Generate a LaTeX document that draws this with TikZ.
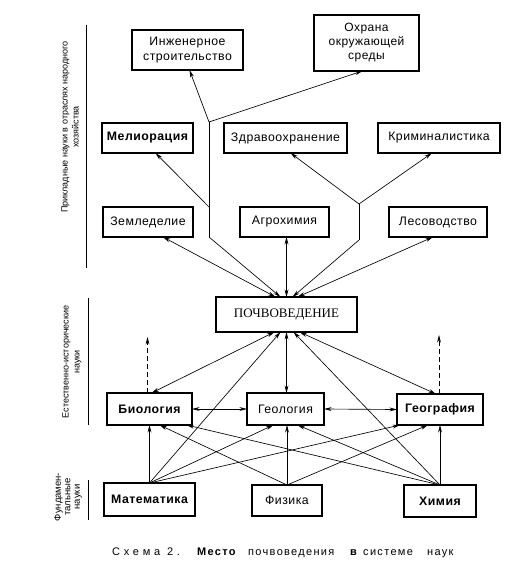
\documentclass[tikz,border=0pt]{standalone}
\usepackage{fontspec}
\setmainfont{Liberation Sans}
\newfontfamily\lbl[LetterSpace=4]{Liberation Sans}
\newfontfamily\serifcaps{Liberation Serif}
\newfontfamily\capsp[LetterSpace=34]{Liberation Sans}
\newfontfamily\captr[LetterSpace=12]{Liberation Sans}
\usetikzlibrary{arrows.meta,calc}
\begin{document}
\begin{tikzpicture}[x=1pt,y=-1pt,
  box/.style={draw, line width=1.3pt, inner sep=0pt, outer sep=0pt, align=center,
    font=\lbl\fontsize{12.3}{14.5}\selectfont},
  bbox/.style={box, font=\lbl\bfseries\fontsize{12.3}{14.5}\selectfont},
  conn/.style={line width=0.65pt},
  arr/.style={conn, -{Stealth[length=7.5pt,width=3.8pt]}},
  darr/.style={conn, {Stealth[length=7.5pt,width=3.8pt]}-{Stealth[length=7.5pt,width=3.8pt]}},
  side/.style={rotate=90, align=center, inner sep=0pt, font=\fontsize{9}{11}\selectfont},
  capw/.style={inner sep=0pt, anchor=base west, font=\captr\fontsize{11}{12}\selectfont},
  bar/.style={line width=1pt}
]
\useasboundingbox (0,0) rectangle (523,573);

% boxes
\node[box, minimum width=111pt, minimum height=40pt] (ing) at (187.5,50) {Инженерное\\строительство};
\node[box, minimum width=105pt, minimum height=56pt, font=\lbl\fontsize{12}{14}\selectfont] (ohr) at (366.5,43) {Охрана\\окружающей\\среды};
\node[bbox, minimum width=91pt, minimum height=30pt] (mel) at (147.5,138) {Мелиорация};
\node[box, minimum width=123pt, minimum height=30pt] (zdr) at (285.5,138) {Здравоохранение};
\node[box, minimum width=122pt, minimum height=30pt] (krim) at (439,138) {Криминалистика};
\node[box, minimum width=90pt, minimum height=30pt] (zem) at (148,222) {Земледелие};
\node[box, minimum width=89pt, minimum height=30pt] (agro) at (284.5,222) {Агрохимия};
\node[box, minimum width=98pt, minimum height=30pt] (les) at (438,222) {Лесоводство};
\node[box, minimum width=141pt, minimum height=35pt, line width=1.6pt, font=\serifcaps\fontsize{13}{15}\selectfont] (poch) at (286.5,314.5) {ПОЧВОВЕДЕНИЕ};
\node[bbox, minimum width=85pt, minimum height=32pt] (bio) at (149.5,409) {Биология};
\node[box, minimum width=77pt, minimum height=32pt] (geol) at (285.5,409) {Геология};
\node[bbox, minimum width=86pt, minimum height=31pt] (geog) at (440,409.5) {География};
\node[bbox, minimum width=91pt, minimum height=33pt] (mat) at (149.5,499.5) {Математика};
\node[box, minimum width=70pt, minimum height=31pt] (fiz) at (287,500.5) {Физика};
\node[bbox, minimum width=72pt, minimum height=32pt] (him) at (440,501) {Химия};

% upper tree 1
\coordinate (j1) at (209,122);
\coordinate (j2) at (209,207);
\coordinate (j3) at (209,237);
\draw[arr] (j1) -- ($(ing.south)+(2,0)$);
\draw[arr] (j1) -- ($(ohr.south)+(-4,0)$);
\draw[arr] (j2) -- ($(mel.south)+(8,0)$);
\draw[conn] (j1) -- (j3);
\draw[arr] (j3) -- ($(poch.north)+(-6,0)$);

% upper tree 2
\coordinate (j4) at (359,204);
\coordinate (j5) at (359,240);
\draw[arr] (j4) -- ($(zdr.south)+(5,0)$);
\draw[arr] (j4) -- ($(krim.south)+(-7,0)$);
\draw[conn] (j4) -- (j5);
\draw[arr] (j5) -- ($(poch.north)+(6,0)$);

% upper direct
\draw[darr] ($(zem.south)+(15,0)$) -- ($(poch.north)+(-11,0)$);
\draw[darr] ($(agro.south)+(2,0)$) -- (poch.north);
\draw[darr] ($(les.south)+(-5,0)$) -- ($(poch.north)+(11,0)$);

% middle
\draw[darr] ($(poch.south)+(-12,0)$) -- ($(bio.north)+(2,0)$);
\draw[darr] (poch.south) -- ($(geol.north)+(1,0)$);
\draw[darr] ($(poch.south)+(13,0)$) -- ($(geog.north)+(-4,0)$);
\coordinate (dbio) at (147.5,337);
\coordinate (dgeog) at (439,335);
\draw[arr, dashed, dash pattern=on 5pt off 3pt] ($(bio.north)+(-2,0)$) -- (dbio);
\draw[arr, dashed, dash pattern=on 5pt off 3pt] ($(geog.north)+(-1,0)$) -- (dgeog);
\draw[darr] (bio.east) -- (geol.west);
\draw[darr] (geol.east) -- (geog.west);

% from fundamental sciences
\draw[arr] (mat.north) -- ($(poch.south)+(-6,0)$);
\draw[arr] (him.north) -- ($(poch.south)+(7,0)$);
\draw[arr] (mat.north) -- (bio.south);
\draw[arr] (mat.north) -- ($(geol.south)+(-12,0)$);
\draw[arr] (mat.north) -- ($(geog.south)+(-40,0)$);
\draw[arr] (fiz.north) -- ($(bio.south)+(10,0)$);
\draw[arr] (fiz.north) -- ($(geol.south)+(1.5,0)$);
\draw[arr] (fiz.north) -- ($(geog.south)+(-12,0)$);
\draw[arr] (him.north) -- ($(bio.south)+(37,0)$);
\draw[arr] (him.north) -- ($(geol.south)+(12,0)$);
\draw[arr] (him.north) -- (geog.south);

% side labels
\node[side] (l1) at (70,127) {Прикладные науки в отраслях народного\\хозяйства};
\coordinate (b1a) at (86,25); \coordinate (b1b) at (86,268);
\draw[bar] (b1a) -- (b1b);
\node[side] (l2) at (72,362) {Естественно-исторические\\науки};
\coordinate (b2a) at (88,298); \coordinate (b2b) at (88,425);
\draw[bar] (b2a) -- (b2b);
\node[side, font=\fontsize{9.5}{9.5}\selectfont] (l3) at (68,497) {Фундамен-\\тальные\\науки};
\coordinate (b3a) at (88,480); \coordinate (b3b) at (88,520);
\draw[bar] (b3a) -- (b3b);

% caption
\node[capw, font=\capsp\fontsize{11}{12}\selectfont] (c1) at (112,555) {Схема 2.};
\node[capw, font=\captr\bfseries\fontsize{11}{12}\selectfont] (c2) at (197,555) {Место};
\node[capw] (c3) at (248,555) {почвоведения};
\node[capw, font=\captr\bfseries\fontsize{11}{12}\selectfont] (c4) at (350,555) {в};
\node[capw] (c5) at (363,555) {системе};
\node[capw] (c6) at (427,555) {наук};
\end{tikzpicture}
\end{document}
